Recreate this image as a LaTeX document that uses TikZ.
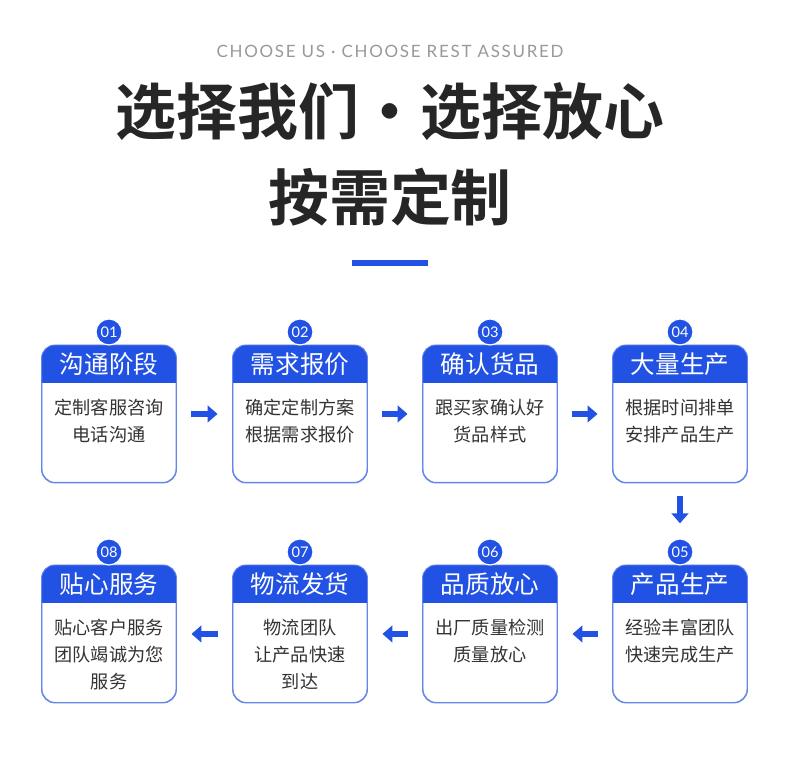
\documentclass[tikz,border=0pt]{standalone}
\usepackage{fontspec}
\newfontfamily\cjk{Noto Sans CJK SC}
\newfontfamily\cjkb{Noto Sans CJK SC Bold}
\setmainfont{Lato}
\usetikzlibrary{arrows.meta}
\definecolor{brand}{HTML}{2152E3}
\definecolor{bodytxt}{HTML}{333333}
\tikzset{
  card/.style={draw=brand!70, line width=0.8pt, rounded corners=4mm, minimum width=134*0.3mm, minimum height=137*0.3mm, inner sep=0pt},
  head/.style={text=white, font=\cjk\fontsize{21}{22}\selectfont},
  body/.style={text=bodytxt, font=\cjk\fontsize{15.5}{23}\selectfont, align=center},
  badge/.style={circle, fill=brand, draw=white, line width=1pt, minimum size=26*0.3mm, inner sep=0pt, text=white, font=\fontsize{12.5}{12}\selectfont},
  flow/.style={brand, line width=1.8mm, -{Triangle[length=3mm,width=5mm]}}
}
% card: name, center x, top y, number, title, body
\newcommand\stepcard[6]{
  \node[card, anchor=north] (#1) at (#2,#3) {};
  \begin{scope}
    \clip[rounded corners=4mm] (#1.north west) rectangle (#1.south east);
    \fill[brand] (#1.north west) rectangle ([yshift=-38*0.3mm]#1.north east);
  \end{scope}
  \draw[brand!70, line width=0.8pt, rounded corners=4mm] (#1.north west) rectangle (#1.south east);
  \node[head] (#1h) at ([yshift=-19*0.3mm]#1.north) {#5};
  \node[badge] (#1n) at ([yshift=13*0.3mm]#1.north) {#4};
  \node[body, anchor=north] (#1b) at ([yshift=-50*0.3mm]#1.north) {#6};
}
\begin{document}
\begin{tikzpicture}[x=0.3mm, y=-0.3mm]
  \useasboundingbox[fill=white] (0,0) rectangle (790,759);
  \node[text=gray!80, font=\fontsize{14.5}{14}\selectfont\addfontfeature{LetterSpace=10}] (tag) at (390,51) {CHOOSE US · CHOOSE REST ASSURED};
  \node[font=\cjkb\fontsize{52}{52}\selectfont, text=black!85] (title) at (390,112) {选择我们·选择放心};
  \node[font=\cjkb\fontsize{52}{52}\selectfont, text=black!85] (sub) at (390,197) {按需定制};
  \fill[brand] (352,260) rectangle (428,266);

  % first row
  \stepcard{s1}{109}{345}{01}{沟通阶段}{定制客服咨询\\电话沟通}
  \stepcard{s2}{300}{345}{02}{需求报价}{确定定制方案\\根据需求报价}
  \stepcard{s3}{490}{345}{03}{确认货品}{跟买家确认好\\货品样式}
  \stepcard{s4}{680}{345}{04}{大量生产}{根据时间排单\\安排产品生产}
  % second row
  \stepcard{s5}{680}{565}{05}{产品生产}{经验丰富团队\\快速完成生产}
  \stepcard{s6}{490}{565}{06}{品质放心}{出厂质量检测\\质量放心}
  \stepcard{s7}{300}{565}{07}{物流发货}{物流团队\\让产品快速\\到达}
  \stepcard{s8}{109}{565}{08}{贴心服务}{贴心客户服务\\团队竭诚为您\\服务}

  % arrows
  \draw[flow, shorten <=4.5mm, shorten >=4.5mm] (s1) -- (s2);
  \draw[flow, shorten <=4.5mm, shorten >=4.5mm] (s2) -- (s3);
  \draw[flow, shorten <=4.5mm, shorten >=4.5mm] (s3) -- (s4);
  \draw[flow, shorten <=3.8mm, shorten >=12.5mm] (s4) -- (s5);
  \draw[flow, shorten <=4.5mm, shorten >=4.5mm] (s5) -- (s6);
  \draw[flow, shorten <=4.5mm, shorten >=4.5mm] (s6) -- (s7);
  \draw[flow, shorten <=4.5mm, shorten >=4.5mm] (s7) -- (s8);
\end{tikzpicture}
\end{document}
